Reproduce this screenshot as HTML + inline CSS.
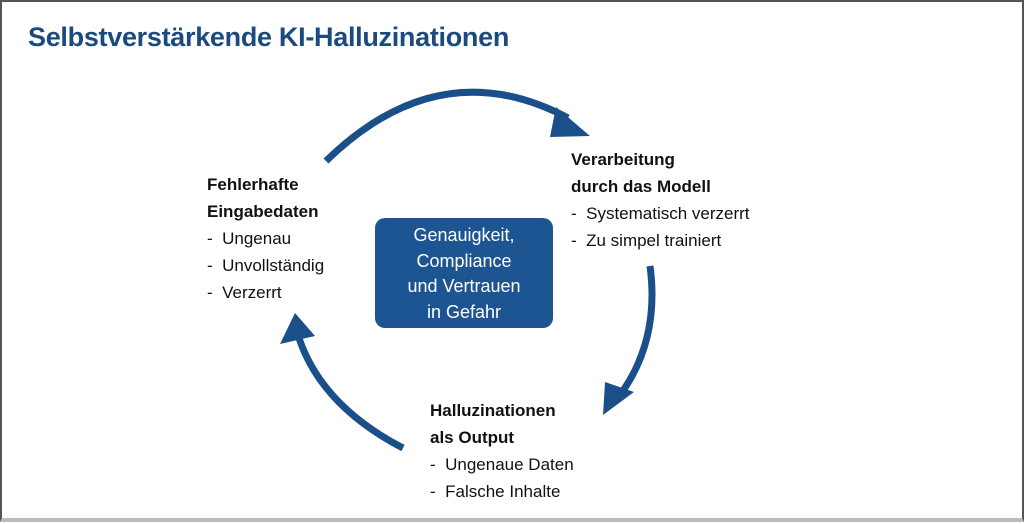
<!DOCTYPE html>
<html><head><meta charset="utf-8"><style>
body{margin:0;width:1024px;height:524px;overflow:hidden;background:#fff;font-family:"Liberation Sans",sans-serif}
.frame{position:absolute;left:0;top:0;width:1020px;height:516px;border:2px solid #555;border-bottom:4px solid #bbb}
.t{position:absolute;font-size:17px;line-height:27px;color:#111;white-space:nowrap}
.t b{font-weight:bold}
h1{position:absolute;left:28px;top:22px;margin:0;font-size:27px;color:#1b4a80;font-weight:bold;letter-spacing:-0.3px}
.box{position:absolute;left:375px;top:218px;width:178px;height:110px;background:#1d5592;border-radius:10px;color:#fff;text-align:center;font-size:18px;line-height:25.5px;padding-top:5px;box-sizing:border-box}
</style></head><body>
<div class="frame"></div>
<h1>Selbstverstärkende KI-Halluzinationen</h1>
<svg width="1024" height="524" style="position:absolute;left:0;top:0">
<g fill="none" stroke="#1b4f8a" stroke-width="7">
<path d="M326 161 Q440 50 568 118"/>
<path d="M650 266 Q660 340 620 395"/>
<path d="M403 448 Q320 405 298 335"/>
</g>
<g fill="#1b4f8a">
<polygon points="556,107 590,136 550,137"/>
<polygon points="603,415 634,392 605,382"/>
<polygon points="280,344 295,313 315,336"/>
</g>
</svg>
<div class="box">Genauigkeit,<br>Compliance<br>und Vertrauen<br>in Gefahr</div>
<div class="t" style="left:207px;top:171px"><b>Fehlerhafte<br>Eingabedaten</b><br>-&nbsp; Ungenau<br>-&nbsp; Unvollständig<br>-&nbsp; Verzerrt</div>
<div class="t" style="left:571px;top:146px"><b>Verarbeitung<br>durch das Modell</b><br>-&nbsp; Systematisch verzerrt<br>-&nbsp; Zu simpel trainiert</div>
<div class="t" style="left:430px;top:397px"><b>Halluzinationen<br>als Output</b><br>-&nbsp; Ungenaue Daten<br>-&nbsp; Falsche Inhalte</div>
</body></html>
